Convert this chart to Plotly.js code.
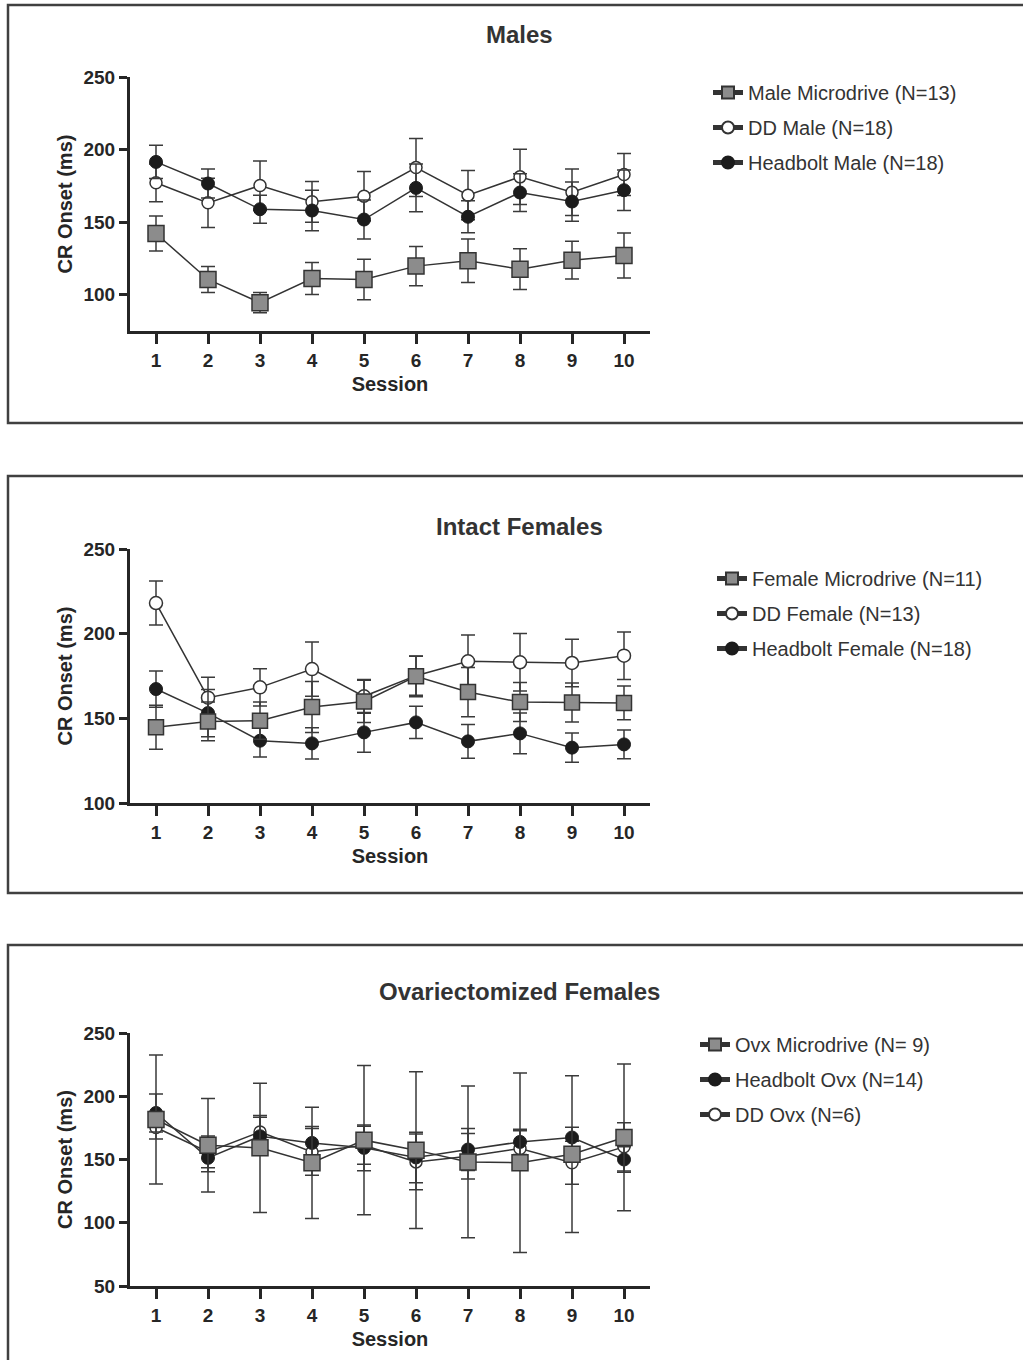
<!DOCTYPE html>
<html>
<head>
<meta charset="utf-8">
<script src="https://cdn.plot.ly/plotly-3.0.1.min.js"></script>
<style>html,body{margin:0;padding:0;background:#fff;}#chart{width:1023px;height:1360px;}</style>
</head>
<body>
<div id="chart"></div>
<script>
// ---- data ----
const sessions = [1, 2, 3, 4, 5, 6, 7, 8, 9, 10];
const tickLabels = ['1', '2', '3', '4', '5', '6', '7', '8', '9', '10'];

const panelTitles = ['Males', 'Intact Females', 'Ovariectomized Females'];

// Males
const maleMicroName = 'Male Microdrive (N=13)';
const maleMicroMean = [142.2, 110.5, 94.5, 111.2, 110.5, 119.7, 123.4, 117.6, 123.8, 127.0];
const maleMicroSem  = [12, 9, 7, 11, 14, 13.5, 15, 14, 13, 15.5];
const maleDDName = 'DD Male (N=18)';
const maleDDMean = [177.1, 163.3, 175.2, 164.0, 167.9, 187.6, 168.6, 181.2, 170.6, 182.8];
const maleDDSem  = [13, 17, 17, 14, 17, 20, 17, 19, 16, 14.5];
const maleHBName = 'Headbolt Male (N=18)';
const maleHBMean = [191.5, 176.6, 158.9, 158.0, 151.8, 173.6, 153.7, 170.4, 164.2, 172.0];
const maleHBSem  = [11.5, 10, 9.6, 14, 13.5, 16.5, 11, 13, 13.5, 14];

// Intact females
const femMicroName = 'Female Microdrive (N=11)';
const femMicroMean = [144.7, 148.2, 148.6, 156.7, 160.0, 174.8, 165.5, 159.6, 159.4, 159.1];
const femMicroSem  = [13, 11.5, 11, 15, 12.5, 12, 14.5, 11.5, 11.5, 10];
const femDDName = 'DD Female (N=13)';
const femDDMean = [218.1, 162.2, 168.3, 179.1, 163.0, 175.2, 183.7, 183.1, 182.7, 187.0];
const femDDSem  = [13, 12, 11, 16, 10, 11.5, 15.5, 17, 14, 14];
const femHBName = 'Headbolt Female (N=18)';
const femHBMean = [167.3, 153.1, 136.8, 135.2, 141.7, 147.6, 136.4, 141.1, 132.7, 134.6];
const femHBSem  = [10.7, 14, 9.6, 9.2, 11.7, 9.5, 10, 12, 8.6, 8.5];

// Ovariectomized females
const ovxMicroName = 'Ovx Microdrive (N= 9)';
const ovxMicroMean = [181.6, 161.3, 159.2, 147.4, 165.3, 157.4, 148.1, 147.4, 154.2, 167.4];
const ovxMicroSem  = [51, 37, 51, 44, 59, 62, 60, 71, 62, 58];
const ovxHBName = 'Headbolt Ovx (N=14)';
const ovxHBMean = [186.8, 151.3, 168.4, 163.1, 159.2, 151.6, 157.9, 163.9, 167.4, 150.0];
const ovxHBSem  = [15, 11, 15, 13, 18, 20, 16.6, 10, 8, 10];
const ovxDDName = 'DD Ovx (N=6)';
const ovxDDMean = [175.3, 156.0, 171.8, 156.0, 161.3, 148.1, 152.6, 158.7, 147.4, 160.0];
const ovxDDSem  = [9, 12.6, 13, 18.5, 15, 22, 18, 14, 17, 19];

const yTicks1 = [100, 150, 200, 250];
const yTicks2 = [100, 150, 200, 250];
const yTicks3 = [50, 100, 150, 200, 250];

// ---- styling ----
const W = 1023, H = 1360;
const FONT = 'Liberation Sans, Arial, Helvetica, sans-serif';
const INK = '#262626';
const px = v => v / W;
const py = v => 1 - v / H;

const styles = {
  micro: {symbol: 'square', size: 16, color: '#8c8c8c', line: {color: '#333', width: 1.5}},
  dd: {symbol: 'circle', size: 12, color: '#ffffff', line: {color: '#333', width: 1.5}},
  hb: {symbol: 'circle', size: 13, color: '#1c1c1c', line: {color: '#1c1c1c', width: 1}}
};

function tr(name, y, sem, kind, k, rank) {
  const s = k === 1 ? '' : String(k);
  const m = Object.assign({}, styles[kind]);
  if (k === 2) { m.size = kind === 'micro' ? 15 : 13; }
  return {
    type: 'scatter', mode: 'lines+markers', name: name,
    x: sessions, y: y,
    xaxis: 'x' + s, yaxis: 'y' + s,
    legend: 'legend' + s, legendrank: rank, legendgroup: name,
    line: {color: '#333', width: 1.5},
    marker: m,
    error_y: {type: 'data', array: sem, visible: true, color: '#3a3a3a', thickness: 1.5, width: 7},
    cliponaxis: false
  };
}

const data = [
  tr(maleDDName, maleDDMean, maleDDSem, 'dd', 1, 2),
  tr(maleHBName, maleHBMean, maleHBSem, 'hb', 1, 3),
  tr(maleMicroName, maleMicroMean, maleMicroSem, 'micro', 1, 1),
  tr(femDDName, femDDMean, femDDSem, 'dd', 2, 2),
  tr(femHBName, femHBMean, femHBSem, 'hb', 2, 3),
  tr(femMicroName, femMicroMean, femMicroSem, 'micro', 2, 1),
  tr(ovxDDName, ovxDDMean, ovxDDSem, 'dd', 3, 3),
  tr(ovxHBName, ovxHBMean, ovxHBSem, 'hb', 3, 2),
  tr(ovxMicroName, ovxMicroMean, ovxMicroSem, 'micro', 3, 1)
];

function xAx(anchor) {
  return {
    anchor: anchor, domain: [px(130), px(650)], range: [0.5, 10.5],
    tickvals: sessions, ticktext: tickLabels,
    showline: true, linewidth: 3, linecolor: INK,
    ticks: 'outside', ticklen: 10, tickwidth: 3, tickcolor: INK,
    showgrid: false, zeroline: false,
    tickfont: {family: FONT, size: 19, color: INK, weight: 700},
    title: {text: 'Session', standoff: 8, font: {family: FONT, size: 20, color: INK, weight: 700}},
    fixedrange: true
  };
}
function yAx(anchor, top, bottom, range, ticks) {
  return {
    anchor: anchor, domain: [py(bottom), py(top)], range: range,
    tickvals: ticks,
    showline: true, linewidth: 3, linecolor: INK,
    ticks: 'outside', ticklen: 8, tickwidth: 3, tickcolor: INK,
    showgrid: false, zeroline: false,
    tickfont: {family: FONT, size: 19, color: INK, weight: 700},
    title: {text: 'CR Onset (ms)', standoff: 6, font: {family: FONT, size: 20, color: INK, weight: 700}},
    fixedrange: true
  };
}

function legend(textX, topY) {
  return {
    x: px(textX - 40), xanchor: 'left', y: py(topY - 3), yanchor: 'top',
    bgcolor: 'rgba(0,0,0,0)', borderwidth: 0,
    font: {family: FONT, size: 20, color: '#333'},
    itemsizing: 'constant', tracegroupgap: 6, traceorder: 'grouped'
  };
}

function frame(top, bottom) {
  return {type: 'rect', xref: 'paper', yref: 'paper', x0: px(8), x1: px(1040),
          y0: py(bottom), y1: py(top), line: {color: '#404040', width: 2.5}, fillcolor: 'rgba(0,0,0,0)'};
}
function titleAnn(text, y) {
  return {text: text, xref: 'paper', yref: 'paper', x: px(519), y: py(y), xanchor: 'center', yanchor: 'middle',
          showarrow: false, font: {family: FONT, size: 24, color: '#333', weight: 700}};
}

const layout = {
  width: W, height: H,
  margin: {l: 0, r: 0, t: 0, b: 0},
  paper_bgcolor: '#ffffff', plot_bgcolor: 'rgba(0,0,0,0)',
  font: {family: FONT, color: INK},
  showlegend: true,
  xaxis: xAx('y'), yaxis: yAx('x', 77, 331, [75, 250], yTicks1),
  xaxis2: xAx('y2'), yaxis2: yAx('x2', 549, 803, [100, 250], yTicks2),
  xaxis3: xAx('y3'), yaxis3: yAx('x3', 1033, 1286, [50, 250], yTicks3),
  legend: legend(748, 76),
  legend2: legend(752, 562),
  legend3: legend(735, 1028),
  shapes: [frame(5, 423), frame(476, 893), frame(945, 1400)],
  annotations: [titleAnn(panelTitles[0], 34), titleAnn(panelTitles[1], 526), titleAnn(panelTitles[2], 991)]
};

Plotly.newPlot('chart', data, layout, {displayModeBar: false, staticPlot: true});
</script>
</body>
</html>
